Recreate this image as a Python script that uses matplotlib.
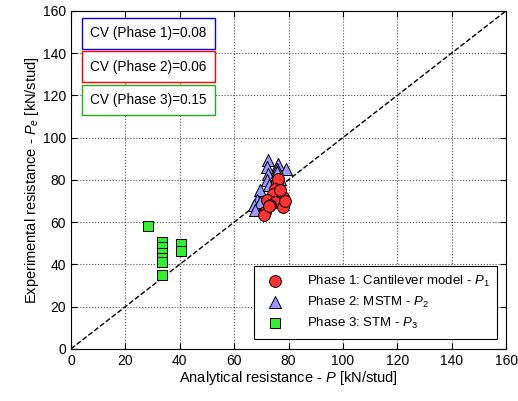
import numpy as np
import matplotlib.pyplot as plt

plt.rcParams['font.family'] = ['Liberation Sans', 'DejaVu Sans']
plt.rcParams['mathtext.fontset'] = 'custom'
plt.rcParams['mathtext.it'] = 'Liberation Sans:italic'
plt.rcParams['mathtext.rm'] = 'Liberation Sans'

# phase 1: cantilever model
p1_x = [75.6, 76.2, 75.0, 74.4, 78.0, 72.0, 75.0, 78.0, 71.4, 70.8, 73.2, 78.8, 76.8, 72.8]
p1_y = [79.0, 80.6, 75.9, 73.5, 72.0, 70.4, 69.6, 67.3, 64.9, 63.3, 68.1, 70.1, 75.1, 67.6]
# phase 2: MSTM
p2_x = [72.6, 76.2, 79.2, 75.6, 72.0, 72.6, 75.6, 72.0, 69.6, 68.4, 67.2, 69.6, 67.8, 76.8, 72.8]
p2_y = [89.3, 87.6, 85.3, 85.3, 86.1, 82.9, 83.7, 79.8, 75.1, 70.4, 68.0, 69.6, 65.6, 80.6, 77.6]
# phase 3: STM
p3_x = [28.3, 33.5, 33.5, 33.5, 33.5, 33.5, 33.5, 40.5, 40.5]
p3_y = [58.0, 50.5, 48.0, 45.5, 43.0, 41.0, 35.0, 49.5, 46.5]

cv_labels = ["CV (Phase 1)=0.08", "CV (Phase 2)=0.06", "CV (Phase 3)=0.15"]
cv_colors = ["blue", "red", "#22aa22"]

fig = plt.figure(figsize=(5.18, 4.01), dpi=100)
ax = fig.add_axes([0.137, 0.130, 0.840, 0.843])

ax.plot([0, 160], [0, 160], "k--", lw=1, zorder=1)
ax.scatter(p1_x, p1_y, s=72, marker="o", c="#ff3333", edgecolors="k", linewidths=0.7,
           zorder=3, label=r"Phase 1: Cantilever model - $\it{P}_{1}$")
ax.scatter(p2_x, p2_y, s=75, marker="^", c="#9999ff", edgecolors="k", linewidths=0.7,
           zorder=2, label=r"Phase 2: MSTM - $\it{P}_{2}$")
ax.scatter(p3_x, p3_y, s=50, marker="s", c="#33ee33", edgecolors="k", linewidths=0.7,
           zorder=3, label=r"Phase 3: STM - $\it{P}_{3}$")

for i, (t, c) in enumerate(zip(cv_labels, cv_colors)):
    ax.text(0.044, 0.933 - i * 0.098, t, transform=ax.transAxes, fontsize=9.8,
            va="center", ha="left",
            bbox=dict(boxstyle="square,pad=0.6", fc="white", ec=c, lw=1))

ax.set_xlim(0, 160)
ax.set_ylim(0, 160)
ax.set_xticks(np.arange(0, 161, 20))
ax.set_yticks(np.arange(0, 161, 20))
ax.grid(True, linestyle=":", color="k", lw=0.8, alpha=0.7)
ax.tick_params(direction="in", top=True, right=True, labelsize=10, length=4)
ax.set_xlabel(r"Analytical resistance - $\it{P}$ [kN/stud]", fontsize=10.5, labelpad=1)
ax.set_ylabel(r"Experimental resistance - $\it{P}_{e}$ [kN/stud]", fontsize=10.5, labelpad=1)

leg = ax.legend(loc="lower right", fontsize=9.5, fancybox=False, edgecolor="k",
                framealpha=1, borderpad=0.6, handletextpad=1.4, labelspacing=0.45,
                borderaxespad=0, bbox_to_anchor=(0.98, 0.03))
leg.get_frame().set_linewidth(0.8)

fig.savefig("out.png", dpi=100)
